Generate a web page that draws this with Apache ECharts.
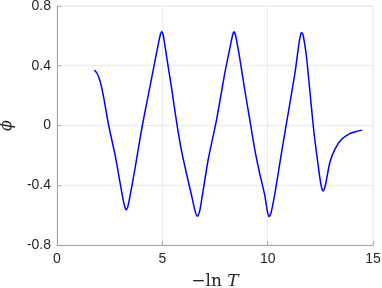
<!DOCTYPE html>
<html>
<head>
<meta charset="utf-8">
<script src="https://cdn.jsdelivr.net/npm/echarts@6/dist/echarts.min.js"></script>
<style>
  html, body { margin: 0; padding: 0; background: #fff; }
  #chart { width: 382px; height: 288px; }
</style>
</head>
<body>
<div id="chart"></div>
<script>
// -ln T values and phi
const lnT = [
  1.77, 1.90, 2.05, 2.20, 2.44, 2.76, 2.99, 3.15, 3.22, 3.28, 3.35, 3.47, 3.70,
  4.05, 4.42, 4.73, 4.89, 4.97, 5.05, 5.21, 5.45, 5.68, 5.92, 6.16, 6.39, 6.55,
  6.66, 6.76, 6.87, 7.18, 7.58, 7.97, 8.26, 8.34, 8.40, 8.48, 8.67, 8.91, 9.15,
  9.38, 9.62, 9.86, 9.98, 10.07, 10.16, 10.35, 10.66, 10.98, 11.30, 11.48,
  11.56, 11.61, 11.69, 11.85, 12.01, 12.20, 12.40, 12.51, 12.58, 12.63, 12.69,
  12.77, 12.95, 13.19, 13.51, 13.90, 14.20, 14.49
];
const phi = [
  0.372, 0.350, 0.295, 0.200, 0.010, -0.200, -0.380, -0.505, -0.545, -0.565,
  -0.550, -0.470, -0.290, 0.000, 0.265, 0.489, 0.600, 0.628, 0.600, 0.455,
  0.240, 0.020, -0.175, -0.330, -0.470, -0.570, -0.608, -0.580, -0.494, -0.226,
  0.042, 0.355, 0.556, 0.608, 0.627, 0.600, 0.455, 0.240, 0.040, -0.155,
  -0.320, -0.465, -0.570, -0.610, -0.585, -0.450, -0.180, 0.087, 0.355, 0.545,
  0.605, 0.623, 0.600, 0.450, 0.220, -0.050, -0.270, -0.380, -0.425, -0.438,
  -0.425, -0.380, -0.248, -0.160, -0.092, -0.054, -0.040, -0.031
];
const xTicks = [0, 5, 10, 15];
const yTicks = [-0.8, -0.4, 0, 0.4, 0.8];

const chart = echarts.init(document.getElementById('chart'));

const tickFont = { color: '#262626', fontFamily: 'Liberation Sans', fontSize: 14 };

chart.setOption({
  animation: false,
  grid: {
    left: 57, right: 9, top: 6, bottom: 43,
    outerBoundsMode: 'none',
    show: true, borderColor: '#e6e6e6', borderWidth: 1
  },
  xAxis: {
    type: 'value',
    min: xTicks[0], max: xTicks[xTicks.length - 1], interval: 5,
    name: '{a|\u2212ln }{b|T}',
    nameLocation: 'middle', nameGap: 28,
    nameTextStyle: {
      rich: {
        a: { fontFamily: 'DejaVu Serif', fontSize: 17, color: '#262626' },
        b: { fontFamily: 'DejaVu Serif', fontStyle: 'italic', fontSize: 17, color: '#262626' }
      }
    },
    axisLine: { show: true, onZero: false, lineStyle: { color: '#a6a6a6', width: 1 } },
    axisTick: { show: true, inside: true, length: 4, lineStyle: { color: '#a6a6a6' } },
    axisLabel: { ...tickFont, margin: 7, formatter: v => String(v) },
    splitLine: { show: true, lineStyle: { color: '#ebebeb', width: 1 } }
  },
  yAxis: {
    type: 'value',
    min: yTicks[0], max: yTicks[yTicks.length - 1], interval: 0.4,
    name: '\u03d5',
    nameLocation: 'middle', nameGap: 42,
    nameTextStyle: { fontFamily: 'DejaVu Serif', fontStyle: 'italic', fontSize: 16, color: '#262626' },
    axisLine: { show: true, onZero: false, lineStyle: { color: '#a6a6a6', width: 1 } },
    axisTick: { show: true, inside: true, length: 4, lineStyle: { color: '#a6a6a6' } },
    axisLabel: {
      ...tickFont, margin: 6,
      formatter: v => (Math.abs(v) < 1e-9 ? '0' : v.toFixed(1))
    },
    splitLine: { show: true, lineStyle: { color: '#ebebeb', width: 1 } }
  },
  series: [{
    type: 'line',
    data: lnT.map((x, i) => [x, phi[i]]),
    showSymbol: false,
    smooth: 0.2,
    lineStyle: { color: '#0000ff', width: 1.5 }
  }]
});
</script>
</body>
</html>
